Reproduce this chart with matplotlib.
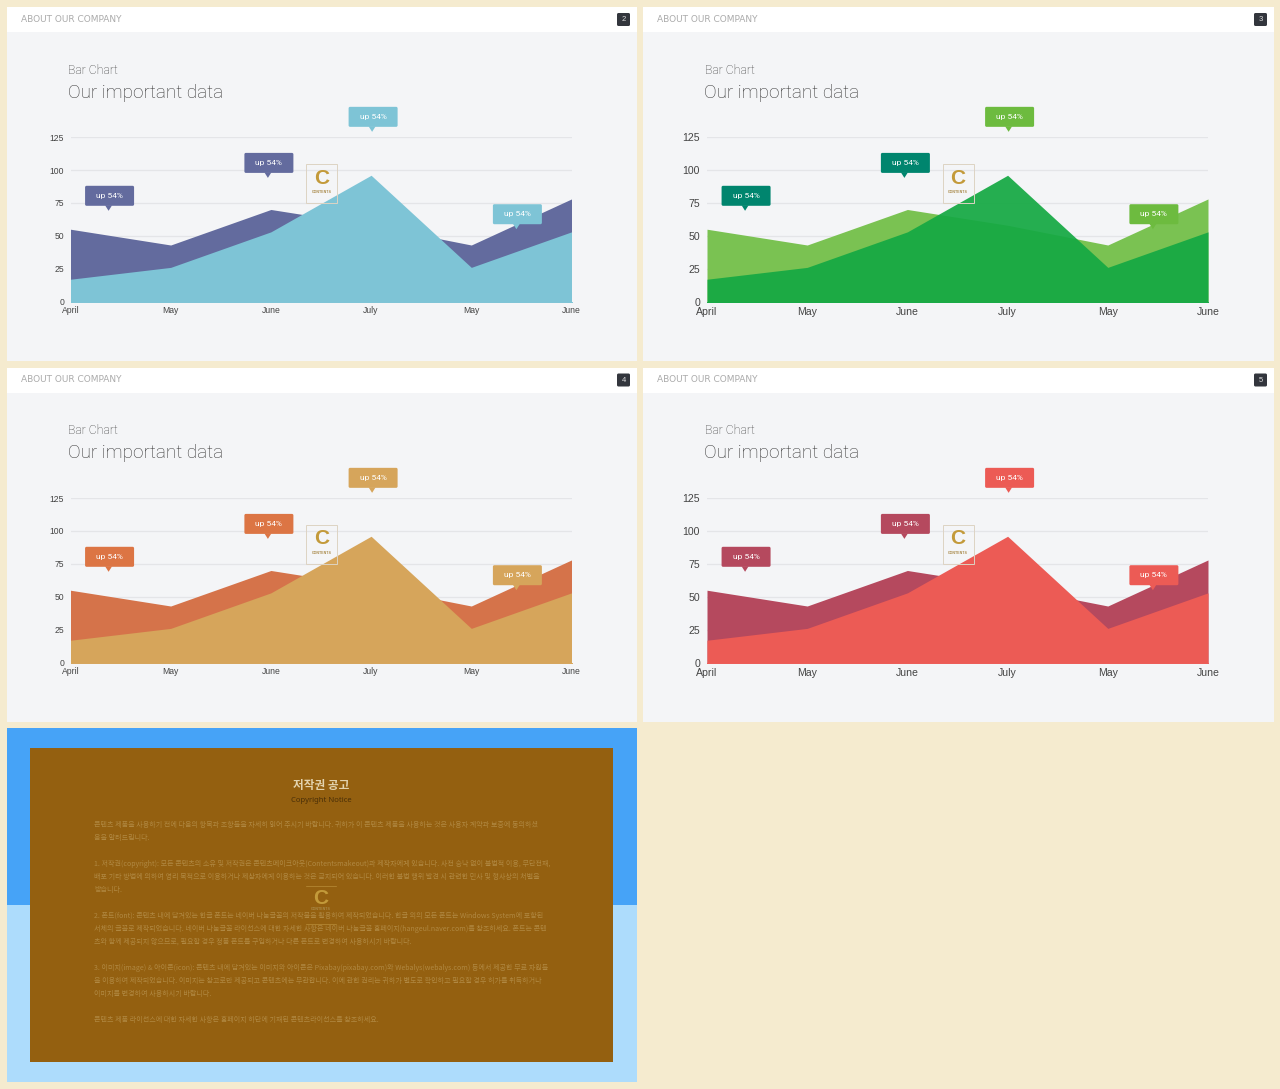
import matplotlib
matplotlib.use('Agg')
import matplotlib.pyplot as plt
from matplotlib.patches import Rectangle, FancyBboxPatch, Polygon

plt.rcParams['font.family'] = ['Liberation Sans', 'Noto Sans CJK KR', 'DejaVu Sans']

# data
months = ['April', 'May', 'June', 'July', 'May', 'June']
back_values = [55, 43, 70, 58, 43, 78]
front_values = [17, 26, 53, 96, 26, 53]
y_ticks = [0, 25, 50, 75, 100, 125]
callout_x = [0.38, 1.97, 3.01, 4.45]
callout_y = [69, 94, 129, 55]
callout_text = 'up 54%'

page_numbers = ['2', '3', '4', '5']
back_colors = ['#636B9E', '#7AC252', '#D5734A', '#B5495E']
front_colors = ['#7EC4D6', '#15A943', '#D6A55B', '#EC5B55']
front_alphas = [1.0, 0.93, 1.0, 1.0]
callout_back = ['#636B9E', '#00856E', '#DC7544', '#B5495E']
callout_front = ['#7EC4D6', '#6DBB3F', '#D6A55B', '#EC5B55']

notice_lines = [
    (825, '콘텐츠 제품을 사용하기 전에 다음의 항목과 조항들을 자세히 읽어 주시기 바랍니다. 귀하가 이 콘텐츠 제품을 사용하는 것은 사용자 계약과 보증에 동의하셨'),
    (838, '음을 알려드립니다.'),
    (864, '1. 저작권(copyright): 모든 콘텐츠의 소유 및 저작권은 콘텐츠메이크아웃(Contentsmakeout)과 제작자에게 있습니다. 사전 승낙 없이 불법적 이용, 무단전재,'),
    (877, '배포 기타 방법에 의하여 영리 목적으로 이용하거나 제삼자에게 이용하는 것은 금지되어 있습니다. 이러한 불법 행위 발견 시 관련한 민사 및 형사상의 처벌을'),
    (890, '받습니다.'),
    (916, '2. 폰트(font): 콘텐츠 내에 담겨있는 한글 폰트는 네이버 나눔글꼴의 저작물을 활용하여 제작되었습니다. 한글 외의 모든 폰트는 Windows System에 포함된'),
    (929, '서체의 글꼴로 제작되었습니다. 네이버 나눔글꼴 라이선스에 대한 자세한 사항은 네이버 나눔글꼴 홈페이지(hangeul.naver.com)를 참조하세요. 폰트는 콘텐'),
    (942, '츠와 함께 제공되지 않으므로, 필요할 경우 정품 폰트를 구입하거나 다른 폰트로 변경하여 사용하시기 바랍니다.'),
    (968, '3. 이미지(image) & 아이콘(icon): 콘텐츠 내에 담겨있는 이미지와 아이콘은 Pixabay(pixabay.com)와 Webalys(webalys.com) 등에서 제공한 무료 자원들'),
    (981, '을 이용하여 제작되었습니다. 이미지는 참고로만 제공되고 콘텐츠에는 무관합니다. 이에 관한 권리는 귀하가 별도로 확인하고 필요할 경우 허가를 취득하거나'),
    (994, '이미지를 변경하여 사용하시기 바랍니다.'),
    (1020, '콘텐츠 제품 라이선스에 대한 자세한 사항은 홈페이지 하단에 기재된 콘텐츠라이선스를 참조하세요.'),
]

W, H = 1280, 1089
fig = plt.figure(figsize=(W / 100, H / 100), dpi=100, facecolor='#F5EBCF')


def pixel_axes(zorder):
    ax = fig.add_axes([0, 0, 1, 1], zorder=zorder)
    ax.set_xlim(0, W)
    ax.set_ylim(H, 0)
    ax.axis('off')
    ax.patch.set_alpha(0)
    return ax


under = pixel_axes(0)
over = pixel_axes(5)


def rect(ax, x0, y0, x1, y1, color):
    ax.add_patch(Rectangle((x0, y0), x1 - x0, y1 - y0, facecolor=color, edgecolor='none'))


def callout(point, color):
    # tip sits on the data point, box is above it
    px, py = over.transData.inverted().transform(point)
    box_w, box_h = 49, 20
    left = px - 23.5
    over.add_patch(FancyBboxPatch((left + 1, py - 25 + 1), box_w - 2, box_h - 2,
                                  boxstyle='round,pad=1,rounding_size=1.5',
                                  facecolor=color, edgecolor='none'))
    over.add_patch(Polygon([(px - 3.5, py - 5.5), (px + 3.5, py - 5.5), (px, py)],
                           facecolor=color, edgecolor='none'))
    over.text(left + box_w / 2, py - 15, callout_text, color='white',
              fontsize=6, family='Roboto', ha='center', va='center')


def logo(cx, top, cont_offset=28, framed=True):
    if framed:
        over.add_patch(Rectangle((cx - 15.5, top), 31, 39, facecolor='none',
                                 edgecolor='#DDD3C3', lw=0.7))
    over.text(cx, top + 14, 'C', color='#C39A3A', fontsize=15, weight='bold',
              ha='center', va='center')
    over.text(cx, top + cont_offset, 'CONTENTS', color='#A98A4A', fontsize=2.6, weight='bold',
              ha='center', va='center')


panels = [(7, 637, 7, 70.5, 301.6, 6.2, 3, 4.5), (643, 1274, 7, 707, 301.6, 7.6, 4, 5),
          (7, 637, 367.5, 70.5, 662.6, 6.2, 3, 4.5), (643, 1274, 367.5, 707, 662.6, 7.6, 4, 5)]

for i, (x0, x1, y0, left, base, tick_size, xpad, ypad) in enumerate(panels):
    rect(under, x0, y0, x1, y0 + 354, '#F4F5F7')
    rect(under, x0, y0, x1, y0 + 25, 'white')
    under.text(x0 + 14, y0 + 12.5, 'ABOUT OUR COMPANY', color='#ABABAB', fontsize=6.5,
               family='DejaVu Sans', va='center')
    under.add_patch(FancyBboxPatch((x1 - 19, y0 + 7), 11, 11, facecolor='#33363D', edgecolor='none',
                                   boxstyle='round,pad=1,rounding_size=1.5'))
    under.text(x1 - 13.5, y0 + 12.5, page_numbers[i], color='#DDDDDD', fontsize=5.5,
               ha='center', va='center')
    under.text(left - 2, y0 + 63.5, 'Bar Chart', color='#3E3E3E', fontsize=8.8,
               family='Roboto', weight='light', va='center')
    under.text(left - 3, y0 + 85.5, 'Our important data', color='#333333', fontsize=13.6,
               family='Roboto', weight='light', va='center')

    # chart area, 501 px wide, 0-125 spans 164.5 px
    ax = fig.add_axes([left / W, 1 - base / H, 501 / W, 164.5 / H], zorder=2)
    ax.patch.set_alpha(0)
    xs = list(range(len(months)))
    ax.fill_between(xs, back_values, color=back_colors[i], lw=0)
    ax.fill_between(xs, front_values, color=front_colors[i], alpha=front_alphas[i], lw=0)
    ax.set_xlim(0, 5)
    ax.set_ylim(0, 125)
    ax.set_xticks(xs, months)
    ax.set_yticks(y_ticks)
    ax.grid(axis='y', color='#E4E5E8', lw=0.9)
    ax.set_axisbelow(True)
    ax.tick_params(length=0, labelsize=tick_size, labelcolor='#444444')
    ax.tick_params(axis='x', pad=xpad)
    ax.tick_params(axis='y', pad=ypad)
    for s in ax.spines.values():
        s.set_visible(False)
    ax.spines['bottom'].set_visible(True)
    ax.spines['bottom'].set_color(front_colors[i])
    ax.spines['bottom'].set_linewidth(0.7)

    colors = [callout_back[i], callout_back[i], callout_front[i], callout_front[i]]
    for cx, cy, c in zip(callout_x, callout_y, colors):
        callout(ax.transData.transform((cx, cy)), c)
    logo(left + 251, y0 + 157)

# notice page
rect(under, 7, 728, 637, 905, '#46A3F7')
rect(under, 7, 905, 637, 1082, '#ADDCFC')
rect(under, 30, 748, 613, 1062, '#946010')
under.text(321, 785, '저작권 공고', color='#E3D3AE', fontsize=8.4, weight='bold',
           family='Noto Sans CJK KR', ha='center', va='center')
under.text(321, 800, 'Copyright Notice', color='#4A2F08', fontsize=5.5,
           family=['Noto Sans', 'DejaVu Sans'], ha='center', va='center')
for y, line in notice_lines:
    under.text(94, y, line, color='#B08842', fontsize=5.05,
               family=['Noto Sans CJK KR', 'DejaVu Sans'], va='center')
over.plot([306, 336], [886, 886], color='#C9A04A', lw=0.5, alpha=0.7)
over.plot([306, 336], [924, 924], color='#C9A04A', lw=0.5, alpha=0.7)
logo(321, 884, cont_offset=24.5, framed=False)

fig.savefig('out.png', dpi=100, facecolor=fig.get_facecolor())
